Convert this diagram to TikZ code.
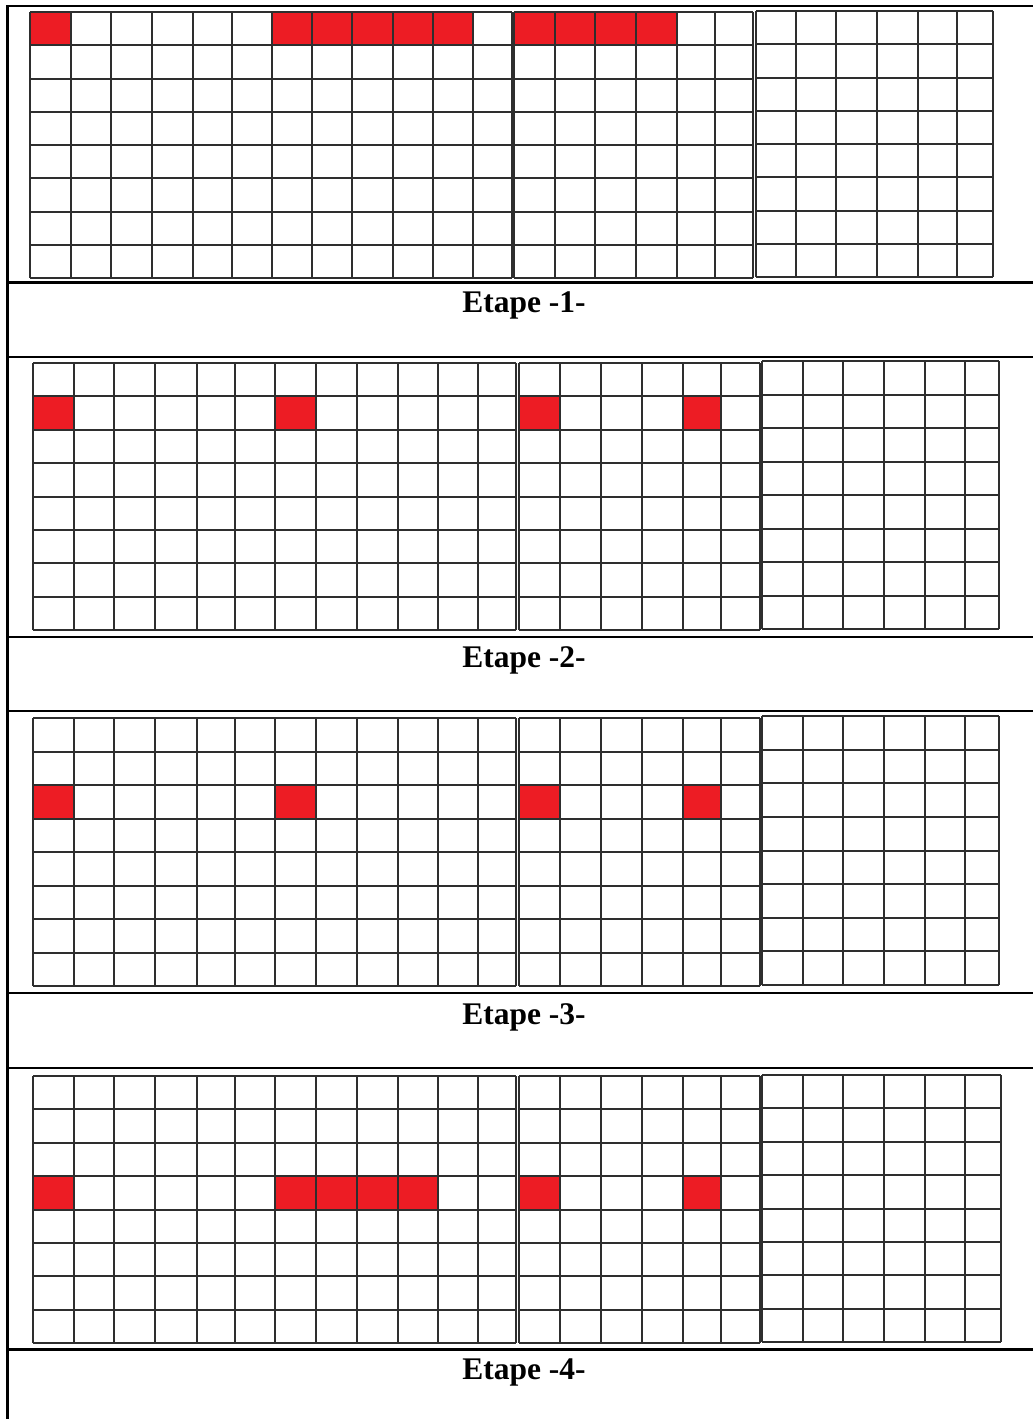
\documentclass[tikz,border=0pt]{standalone}
\usepackage{fontspec}
\setmainfont{Liberation Serif}
\definecolor{cellred}{HTML}{ED1C24}
\tikzset{
  gridline/.style={draw=black!82,line width=2pt},
  tablethin/.style={draw=black,line width=1.6pt},
  tablethick/.style={draw=black,line width=3pt},
  redcell/.style={fill=cellred},
  etape/.style={anchor=base,font=\fontsize{31.5}{31.5}\selectfont\bfseries,inner sep=0pt}
}
% #1 x list, #2 left x, #3 right x, #4 top y, #5 bottom y
\newcommand\mygrid[5]{%
  \foreach \xx in {#1} {\draw[gridline] (\xx,#4) -- (\xx,#5);}
  \foreach \ii in {0,...,8} {\draw[gridline] (#2,{#4+\ii*(#5-#4)/8}) -- (#3,{#4+\ii*(#5-#4)/8});}
}
% #1 x1, #2 x2, #3 top, #4 bottom, #5 row index
\newcommand\myred[5]{%
  \fill[redcell] (#1,{#3+#5*(#4-#3)/8}) rectangle (#2,{#3+(#5+1)*(#4-#3)/8});
}
\begin{document}
\begin{tikzpicture}[x=1pt,y=-1pt]
\useasboundingbox (0,0) rectangle (1033,1419);
\fill[white] (0,0) rectangle (1033,1419);
% ---------- stage 1 ----------
\myred{30}{71}{12}{278}{0}
\myred{272}{473}{12}{278}{0}
\myred{514}{677}{12}{278}{0}
\mygrid{30,71,111,152,193,232,272,312,352,393,433,473,512}{30}{512}{12}{278}
\mygrid{514,555,595,636,677,715,753}{514}{753}{12}{278}
\mygrid{756,796,836,877,918,957,993}{756}{993}{11}{277}
% ---------- stage 2 ----------
\myred{33}{74}{363}{630}{1}
\myred{275}{316}{363}{630}{1}
\myred{519}{560}{363}{630}{1}
\myred{683}{721}{363}{630}{1}
\mygrid{33,74,114,155,197,235,275,316,357,398,438,478,516}{33}{516}{363}{630}
\mygrid{519,560,601,642,683,721,760}{519}{760}{363}{630}
\mygrid{762,803,843,884,925,965,999}{762}{999}{361}{629}
% ---------- stage 3 ----------
\myred{33}{74}{718}{986}{2}
\myred{275}{316}{718}{986}{2}
\myred{519}{560}{718}{986}{2}
\myred{683}{721}{718}{986}{2}
\mygrid{33,74,114,155,197,235,275,316,357,398,438,478,516}{33}{516}{718}{986}
\mygrid{519,560,601,642,683,721,760}{519}{760}{718}{986}
\mygrid{762,803,843,884,925,965,999}{762}{999}{716}{985}
% ---------- stage 4 ----------
\myred{33}{74}{1076}{1343}{3}
\myred{275}{439}{1076}{1343}{3}
\myred{519}{560}{1076}{1343}{3}
\myred{683}{721}{1076}{1343}{3}
\mygrid{33,74,114,155,197,235,275,316,357,398,438,478,516}{33}{516}{1076}{1343}
\mygrid{519,560,601,642,683,721,760}{519}{760}{1076}{1343}
\mygrid{762,803,843,884,925,965,1001}{762}{1001}{1075}{1342}
% ---------- table lines ----------
\draw[tablethick] (7,5) -- (7,1419);
\draw[tablethin] (7,6) -- (1033,6);
\draw[tablethick] (7,282) -- (1033,282);
\draw[tablethin] (7,357) -- (1033,357);
\draw[tablethin] (7,637) -- (1033,637);
\draw[tablethin] (7,711) -- (1033,711);
\draw[tablethin] (7,993) -- (1033,993);
\draw[tablethin] (7,1068) -- (1033,1068);
\draw[tablethick] (7,1349) -- (1033,1349);
% ---------- labels ----------
\node[etape] (l1) at (524,312) {Etape -1-};
\node[etape] (l2) at (524,667) {Etape -2-};
\node[etape] (l3) at (524,1024) {Etape -3-};
\node[etape] (l4) at (524,1379) {Etape -4-};
\end{tikzpicture}
\end{document}
